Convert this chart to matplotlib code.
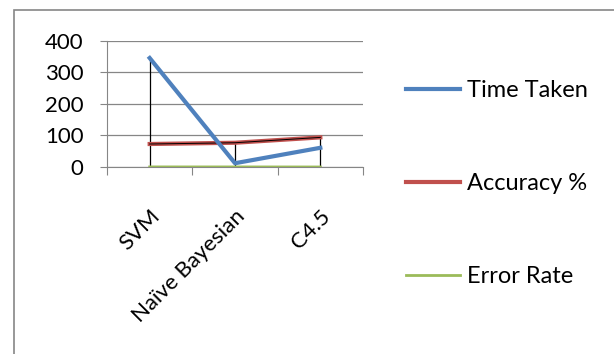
import matplotlib.pyplot as plt
from matplotlib.patches import Rectangle
from matplotlib.transforms import ScaledTranslation

# data
categories = ['SVM', 'Naïve Bayesian', 'C4.5']
time_taken = [346, 12, 61]
accuracy = [73, 77, 94]
error_rate = [0.27, 0.23, 0.06]

plt.rcParams['font.family'] = ['Lato', 'DejaVu Sans']

fig = plt.figure(figsize=(6.14, 3.54), dpi=100)
fig.patches.append(Rectangle((14 / 614, -0.1), 1, 1.1 - 10 / 354, transform=fig.transFigure,
                             fill=False, edgecolor='#868686', linewidth=1.2))

ax = fig.add_axes([107 / 614, 1 - 167 / 354, 256 / 614, 126 / 354])
x = range(len(categories))

# drop lines (black) from the top series down to 0
tops = [max(t, a, e) for t, a, e in zip(time_taken, accuracy, error_rate)]
ax.vlines(x, 0, tops, colors='black', linewidth=0.9, zorder=2)

ax.plot(x, time_taken, color='#4F81BD', linewidth=3.0, label='Time Taken', zorder=4)
ax.plot(x, accuracy, color='#C0504D', linewidth=3.0, label='Accuracy %', zorder=3)
ax.plot(x, accuracy, color='black', linewidth=0.7, zorder=3)
ax.plot(x, error_rate, color='#9BBB59', linewidth=2.0, label='Error Rate', zorder=3)

ax.set_xlim(-0.5, 2.5)
ax.set_ylim(0, 400)
ax.set_yticks([0, 100, 200, 300, 400])
ax.yaxis.grid(True, color='#868686', linewidth=0.9)
ax.set_axisbelow(True)

ax.set_xticks([-0.5, 0.5, 1.5, 2.5])
ax.set_xticklabels([])
ax.set_xticks(list(x), minor=True)
ax.set_xticklabels(categories, minor=True, rotation=45, ha='right', va='top',
                   rotation_mode='anchor', fontsize=16)
shift = ScaledTranslation(4 / 100, 0, fig.dpi_scale_trans)
for lbl in ax.get_xticklabels(minor=True):
    lbl.set_transform(lbl.get_transform() + shift)
ax.tick_params(axis='x', which='minor', length=0, pad=28)
ax.tick_params(axis='x', which='major', length=6, color='#868686')
ax.tick_params(axis='y', length=5, color='#868686', labelsize=16, pad=12)

for side in ['top', 'right']:
    ax.spines[side].set_visible(False)
ax.spines['left'].set_color('#868686')
ax.spines['bottom'].set_color('#868686')

handles, labels = ax.get_legend_handles_labels()
fig.legend(handles, labels, loc='upper left', bbox_to_anchor=(394 / 614, 1 - 68 / 354),
           frameon=False, fontsize=17, handlelength=2.3, handletextpad=0.28,
           labelspacing=3.05, borderpad=0)

fig.savefig('out.png', dpi=100)
